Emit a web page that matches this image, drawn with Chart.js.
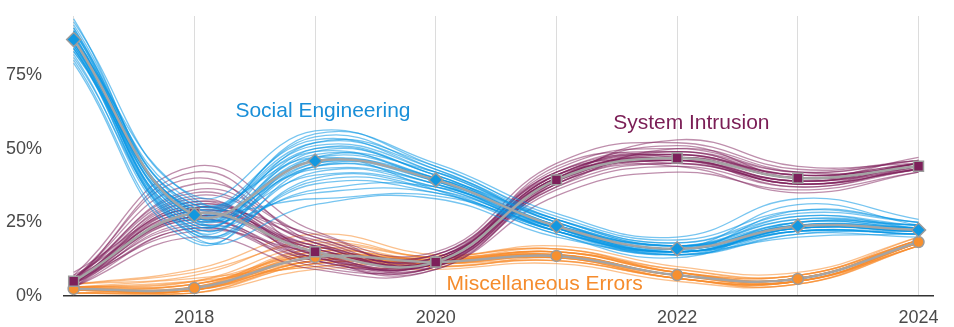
<!DOCTYPE html>
<html>
<head>
<meta charset="utf-8">
<script src="https://cdn.jsdelivr.net/npm/chart.js@4.4.1/dist/chart.umd.min.js"></script>
<style>
  html, body { margin: 0; padding: 0; background: #fff; }
  #wrap { width: 954px; height: 327px; position: relative; }
</style>
</head>
<body>
<div id="wrap"><canvas id="chart"></canvas></div>
<script>
/* Threat patterns over time — central estimate plus resampled lines */

const YEARS  = [2017, 2018, 2019, 2020, 2021, 2022, 2023, 2024];
const Y_TICKS = [0, 0.25, 0.5, 0.75];

// central estimates (share of breaches)
const SOCIAL_ENG    = [0.87, 0.275, 0.458, 0.394, 0.237, 0.16, 0.237, 0.224];
const SYS_INTRUSION = [0.05, 0.28, 0.15, 0.115, 0.394, 0.468, 0.40, 0.44];
const MISC_ERRORS   = [0.024, 0.027, 0.132, 0.115, 0.136, 0.071, 0.058, 0.183];

// resampled lines
const SOCIAL_ENG_SAMPLES = [
  [0.93, 0.34, 0.56, 0.44, 0.27, 0.19, 0.29, 0.25],
  [0.90, 0.31, 0.53, 0.42, 0.26, 0.18, 0.27, 0.24],
  [0.88, 0.29, 0.50, 0.41, 0.25, 0.17, 0.25, 0.23],
  [0.86, 0.27, 0.48, 0.40, 0.24, 0.16, 0.24, 0.22],
  [0.85, 0.25, 0.46, 0.39, 0.23, 0.15, 0.23, 0.22],
  [0.84, 0.23, 0.44, 0.38, 0.22, 0.15, 0.22, 0.21],
  [0.82, 0.21, 0.42, 0.37, 0.22, 0.14, 0.22, 0.21],
  [0.80, 0.19, 0.40, 0.36, 0.21, 0.14, 0.21, 0.20],
  [0.89, 0.22, 0.38, 0.35, 0.22, 0.15, 0.23, 0.22],
  [0.91, 0.26, 0.36, 0.37, 0.24, 0.17, 0.26, 0.23],
  [0.87, 0.33, 0.33, 0.34, 0.23, 0.16, 0.31, 0.24],
  [0.83, 0.30, 0.52, 0.43, 0.25, 0.16, 0.24, 0.23],
  [0.94, 0.28, 0.55, 0.45, 0.28, 0.20, 0.33, 0.26],
  [0.79, 0.18, 0.44, 0.39, 0.24, 0.17, 0.22, 0.21],
  [0.86, 0.24, 0.49, 0.41, 0.23, 0.14, 0.21, 0.22],
  [0.88, 0.32, 0.47, 0.36, 0.21, 0.13, 0.25, 0.24],
  [0.85, 0.20, 0.31, 0.33, 0.20, 0.15, 0.20, 0.21],
  [0.90, 0.27, 0.45, 0.40, 0.26, 0.18, 0.28, 0.25],
  [0.92, 0.30, 0.51, 0.42, 0.25, 0.17, 0.24, 0.23],
  [0.87, 0.26, 0.47, 0.40, 0.24, 0.16, 0.23, 0.22],
  [0.86, 0.28, 0.46, 0.39, 0.24, 0.16, 0.25, 0.23],
  [0.84, 0.25, 0.44, 0.38, 0.23, 0.15, 0.23, 0.22],
  [0.89, 0.24, 0.50, 0.41, 0.24, 0.15, 0.24, 0.22],
  [0.85, 0.29, 0.43, 0.38, 0.23, 0.16, 0.22, 0.22],
  [0.88, 0.22, 0.47, 0.42, 0.26, 0.17, 0.26, 0.24],
  [0.83, 0.27, 0.41, 0.37, 0.22, 0.15, 0.23, 0.23],
  [0.91, 0.29, 0.54, 0.43, 0.25, 0.16, 0.25, 0.24],
  [0.81, 0.23, 0.45, 0.40, 0.23, 0.15, 0.22, 0.21],
  [0.87, 0.31, 0.49, 0.39, 0.22, 0.14, 0.24, 0.23],
  [0.86, 0.21, 0.39, 0.36, 0.23, 0.16, 0.27, 0.23],
  [0.90, 0.26, 0.52, 0.44, 0.26, 0.17, 0.23, 0.22],
  [0.84, 0.28, 0.35, 0.35, 0.22, 0.15, 0.29, 0.25]
];
const SYS_INTRUSION_SAMPLES = [
  [0.07, 0.44, 0.22, 0.15, 0.45, 0.52, 0.43, 0.46],
  [0.06, 0.38, 0.20, 0.14, 0.43, 0.50, 0.42, 0.46],
  [0.06, 0.34, 0.18, 0.13, 0.42, 0.49, 0.41, 0.45],
  [0.05, 0.31, 0.17, 0.12, 0.41, 0.48, 0.41, 0.45],
  [0.05, 0.29, 0.16, 0.12, 0.40, 0.47, 0.40, 0.44],
  [0.04, 0.27, 0.14, 0.11, 0.39, 0.46, 0.39, 0.44],
  [0.04, 0.25, 0.13, 0.10, 0.38, 0.45, 0.38, 0.43],
  [0.03, 0.23, 0.11, 0.10, 0.36, 0.44, 0.37, 0.43],
  [0.03, 0.20, 0.09, 0.09, 0.34, 0.42, 0.36, 0.42],
  [0.08, 0.30, 0.19, 0.11, 0.44, 0.47, 0.38, 0.45],
  [0.04, 0.33, 0.12, 0.13, 0.37, 0.50, 0.42, 0.43],
  [0.05, 0.22, 0.15, 0.14, 0.41, 0.44, 0.35, 0.42],
  [0.06, 0.40, 0.14, 0.09, 0.38, 0.49, 0.40, 0.47],
  [0.03, 0.26, 0.10, 0.12, 0.40, 0.46, 0.37, 0.44],
  [0.05, 0.28, 0.21, 0.10, 0.39, 0.53, 0.44, 0.45],
  [0.04, 0.32, 0.16, 0.13, 0.42, 0.45, 0.39, 0.43],
  [0.05, 0.30, 0.15, 0.12, 0.40, 0.47, 0.40, 0.44],
  [0.06, 0.27, 0.16, 0.11, 0.39, 0.46, 0.39, 0.44],
  [0.04, 0.29, 0.14, 0.12, 0.41, 0.48, 0.40, 0.45],
  [0.05, 0.24, 0.13, 0.11, 0.38, 0.47, 0.41, 0.44],
  [0.06, 0.35, 0.18, 0.13, 0.40, 0.46, 0.38, 0.43],
  [0.04, 0.31, 0.15, 0.10, 0.39, 0.48, 0.40, 0.44],
  [0.05, 0.26, 0.12, 0.12, 0.41, 0.47, 0.39, 0.45],
  [0.07, 0.28, 0.17, 0.11, 0.37, 0.45, 0.38, 0.43],
  [0.05, 0.36, 0.20, 0.14, 0.42, 0.48, 0.41, 0.44],
  [0.04, 0.23, 0.12, 0.10, 0.40, 0.47, 0.40, 0.44],
  [0.06, 0.32, 0.14, 0.11, 0.38, 0.46, 0.39, 0.45],
  [0.05, 0.27, 0.17, 0.13, 0.41, 0.49, 0.42, 0.46],
  [0.03, 0.30, 0.13, 0.12, 0.39, 0.46, 0.38, 0.44],
  [0.05, 0.42, 0.18, 0.12, 0.40, 0.51, 0.40, 0.45]
];
const MISC_ERRORS_SAMPLES = [
  [0.04, 0.09, 0.21, 0.14, 0.17, 0.10, 0.08, 0.20],
  [0.04, 0.07, 0.19, 0.13, 0.16, 0.09, 0.07, 0.20],
  [0.03, 0.05, 0.17, 0.13, 0.15, 0.08, 0.07, 0.19],
  [0.03, 0.04, 0.15, 0.12, 0.15, 0.08, 0.06, 0.19],
  [0.02, 0.03, 0.14, 0.12, 0.14, 0.07, 0.06, 0.18],
  [0.02, 0.02, 0.13, 0.11, 0.14, 0.07, 0.06, 0.18],
  [0.02, 0.02, 0.12, 0.11, 0.13, 0.06, 0.05, 0.18],
  [0.01, 0.01, 0.11, 0.10, 0.12, 0.06, 0.05, 0.17],
  [0.01, 0.01, 0.09, 0.09, 0.11, 0.05, 0.04, 0.17],
  [0.03, 0.06, 0.10, 0.12, 0.14, 0.06, 0.05, 0.18],
  [0.02, 0.03, 0.16, 0.10, 0.13, 0.07, 0.06, 0.19],
  [0.01, 0.02, 0.12, 0.13, 0.16, 0.08, 0.05, 0.17],
  [0.02, 0.04, 0.13, 0.11, 0.12, 0.06, 0.04, 0.18],
  [0.03, 0.02, 0.11, 0.12, 0.15, 0.09, 0.07, 0.19],
  [0.03, 0.03, 0.13, 0.12, 0.14, 0.07, 0.06, 0.18],
  [0.02, 0.04, 0.14, 0.11, 0.15, 0.08, 0.06, 0.19],
  [0.03, 0.02, 0.12, 0.12, 0.13, 0.07, 0.05, 0.18],
  [0.02, 0.03, 0.15, 0.12, 0.14, 0.07, 0.06, 0.18],
  [0.01, 0.02, 0.13, 0.11, 0.13, 0.06, 0.05, 0.17],
  [0.03, 0.05, 0.14, 0.12, 0.15, 0.08, 0.06, 0.19],
  [0.02, 0.01, 0.12, 0.11, 0.14, 0.07, 0.05, 0.18],
  [0.02, 0.03, 0.11, 0.12, 0.14, 0.07, 0.06, 0.18],
  [0.04, 0.08, 0.18, 0.13, 0.15, 0.08, 0.07, 0.19],
  [0.02, 0.02, 0.14, 0.11, 0.13, 0.06, 0.05, 0.18],
  [0.01, 0.03, 0.12, 0.10, 0.12, 0.06, 0.04, 0.17],
  [0.03, 0.04, 0.13, 0.13, 0.16, 0.08, 0.06, 0.19],
  [0.02, 0.02, 0.16, 0.12, 0.14, 0.07, 0.05, 0.18],
  [0.03, 0.05, 0.10, 0.11, 0.13, 0.07, 0.06, 0.18]
];

const SERIES_NAMES = ['Social Engineering', 'System Intrusion', 'Miscellaneous Errors'];
// where each series name sits, in data units (year, share)
const LABEL_AT = [[2018.34, 0.628], [2021.47, 0.587], [2020.09, 0.041]];

const COLORS = {
  se: '#1298e0',
  si: '#7d1f5a',
  me: '#f7902f'
};
const THIN = {
  se: 'rgba(8,150,228,0.55)',
  si: 'rgba(125,30,90,0.5)',
  me: 'rgba(247,140,45,0.55)'
};
const LABEL_COLORS = ['#1a8fd8', '#7a1d55', '#f58c2d'];
const CENTER_LINE = '#a4a4a4';
const FONT = "'Liberation Sans', Arial, sans-serif";

const toPts = arr => YEARS.map((x, i) => ({ x, y: arr[i] }));

function sampleSets(samples, color, order) {
  return samples.map(s => ({
    data: toPts(s), borderColor: color, borderWidth: 1.3,
    pointRadius: 0, tension: 0.45, fill: false, order
  }));
}

function centerSet(vals, color, style, r) {
  return {
    data: toPts(vals), borderColor: CENTER_LINE, borderWidth: 2.5, tension: 0.4, fill: false,
    pointStyle: style, pointRadius: r, pointBackgroundColor: color,
    pointBorderColor: '#9c9c9c', pointBorderWidth: 1.5, order: 0
  };
}

const datasets = [
  centerSet(SOCIAL_ENG, COLORS.se, 'rectRot', 7),
  centerSet(SYS_INTRUSION, COLORS.si, 'rect', 7),
  centerSet(MISC_ERRORS, COLORS.me, 'circle', 5.5),
  ...sampleSets(SOCIAL_ENG_SAMPLES, THIN.se, 1),
  ...sampleSets(SYS_INTRUSION_SAMPLES, THIN.si, 2),
  ...sampleSets(MISC_ERRORS_SAMPLES, THIN.me, 3)
];

const seriesLabels = {
  id: 'seriesLabels',
  afterDatasetsDraw(chart) {
    const { ctx, scales: { x, y } } = chart;
    ctx.save();
    ctx.font = '21px ' + FONT;
    ctx.textBaseline = 'middle';
    ctx.textAlign = 'left';
    SERIES_NAMES.forEach((name, i) => {
      ctx.fillStyle = LABEL_COLORS[i];
      ctx.fillText(name, x.getPixelForValue(LABEL_AT[i][0]), y.getPixelForValue(LABEL_AT[i][1]));
    });
    ctx.restore();
  }
};

new Chart(document.getElementById('chart'), {
  type: 'line',
  data: { datasets },
  plugins: [seriesLabels],
  options: {
    responsive: true, maintainAspectRatio: false, animation: false,
    layout: { autoPadding: false, padding: { top: 16, right: 21, left: 0, bottom: 0 } },
    plugins: { legend: { display: false }, tooltip: { enabled: false } },
    scales: {
      x: {
        type: 'linear', min: 2016.92, max: 2024.12,
        afterBuildTicks: s => { s.ticks = YEARS.map(v => ({ value: v })); },
        afterFit: s => { s.height = 31; s.paddingLeft = 0; s.paddingRight = 0; },
        ticks: {
          color: '#4a4a4a', font: { family: FONT, size: 18 }, padding: 11, maxRotation: 0, autoSkip: false,
          callback: v => (v % 2 === 0 ? String(v) : '')
        },
        grid: { color: '#dcdcdc', lineWidth: 1, drawTicks: false },
        border: { color: '#333', width: 1.5 }
      },
      y: {
        min: 0, max: 0.95,
        afterBuildTicks: s => { s.ticks = Y_TICKS.map(v => ({ value: v })); },
        afterFit: s => { s.width = 64; s.paddingTop = 0; s.paddingBottom = 0; },
        ticks: {
          color: '#4a4a4a', font: { family: FONT, size: 18 }, padding: 14,
          callback: v => Math.round(v * 100) + '%'
        },
        grid: { display: false },
        border: { display: false }
      }
    }
  }
});
</script>
</body>
</html>
